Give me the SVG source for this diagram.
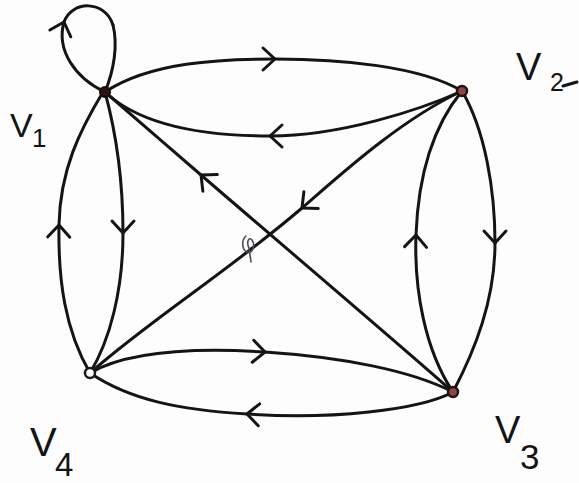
<svg xmlns="http://www.w3.org/2000/svg" width="579" height="483" viewBox="0 0 579 483">
  <style>
    .e { fill: none; stroke: #141414; stroke-width: 3; stroke-linecap: round; stroke-linejoin: round; marker-mid: url(#ah); }
    .e0 { fill: none; stroke: #141414; stroke-width: 3; stroke-linecap: round; stroke-linejoin: round; }
    .lbl { font-family: "Liberation Sans", Arial, sans-serif; fill: #141414; }
    .dark { fill: #2a1414; stroke: #1a0c0c; stroke-width: 2; }
    .red { fill: #8a4848; stroke: #2a1010; stroke-width: 2.5; }
    .open { fill: #ffffff; stroke: #1a1a1a; stroke-width: 2.5; }
  </style>
  <defs>
    <marker id="ah" markerUnits="userSpaceOnUse" viewBox="-16 -16 32 32" markerWidth="32" markerHeight="32" refX="0" refY="0" orient="auto" overflow="visible">
      <path d="M-12,-11 L0,0 L-12,11" fill="none" stroke="#141414" stroke-width="3" stroke-linecap="round" stroke-linejoin="round"/>
    </marker>
  </defs>
  <rect width="579" height="483" fill="#fdfdfd"/>

  <g id="connectors">
    <!-- self loop v1 -->
    <g id="loop-v1">
      <path class="e" d="M105,92 C75,78 56,50 64,22 C72,0 105,0 113,25"/>
      <path class="e0" d="M113,25 C118,45 114,70 105,92"/>
    </g>
    <!-- v1 -> v2 upper -->
    <path class="e" d="M105,92 C150,62 220,59 275,59 C340,59 420,66 462,91"/>
    <!-- v2 -> v1 lower -->
    <path class="e" d="M462,91 C420,110 340,136 270,136 C200,136 140,125 105,92"/>
    <!-- v2 -> v4 diagonal -->
    <path class="e" d="M462,91 C400,120 340,175 302,208 C230,270 150,320 90,373"/>
    <!-- v3 -> v1 diagonal -->
    <path class="e" d="M453,392 C400,345 260,226 201,175 C170,148 130,114 105,92"/>
    <!-- v1 -> v4 inner -->
    <path class="e" d="M105,92 C118,140 123,190 123,233 C123,290 110,340 90,373"/>
    <!-- v4 -> v1 outer -->
    <path class="e" d="M90,373 C65,330 58,280 59,225 C60,170 80,130 103,92"/>
    <!-- v2 -> v3 outer -->
    <path class="e" d="M462,91 C485,130 495,190 495,243 C495,300 475,350 453,392"/>
    <!-- v3 -> v2 inner -->
    <path class="e" d="M453,392 C425,350 414,290 416,235 C418,180 430,130 462,91"/>
    <!-- v4 -> v3 upper -->
    <path class="e" d="M90,373 C130,350 200,348 265,352 C340,357 410,370 453,392"/>
    <!-- v3 -> v4 lower -->
    <path class="e" d="M453,392 C420,410 330,420 247,414 C180,410 130,400 90,373"/>
    <!-- pen mark near crossing -->
    <path d="M246,236 C241,240 242,250 247,252 C252,254 256,246 252,240 C249,236 246,242 249,248 L251,262" fill="none" stroke="#4a4a5a" stroke-width="1.6" stroke-linecap="round"/>
  </g>

  <g id="v1">
    <circle class="dark" cx="105" cy="92" r="5"/>
    <text class="lbl" x="10" y="137" font-size="34">V</text>
    <text class="lbl" x="32" y="147" font-size="26">1</text>
  </g>
  <g id="v2">
    <circle class="red" cx="462" cy="91" r="5"/>
    <text class="lbl" x="516" y="80" font-size="38">V</text>
    <text class="lbl" x="550" y="91" font-size="25">2</text>
    <path d="M563,86 L577,82" stroke="#141414" stroke-width="3" stroke-linecap="round"/>
  </g>
  <g id="v3">
    <circle class="red" cx="453" cy="392" r="5"/>
    <text class="lbl" x="495" y="443" font-size="38">V</text>
    <text class="lbl" x="520" y="469" font-size="35">3</text>
  </g>
  <g id="v4">
    <circle class="open" cx="90" cy="373" r="5"/>
    <text class="lbl" x="30" y="456" font-size="40">V</text>
    <text class="lbl" x="55" y="476" font-size="33">4</text>
  </g>
</svg>
